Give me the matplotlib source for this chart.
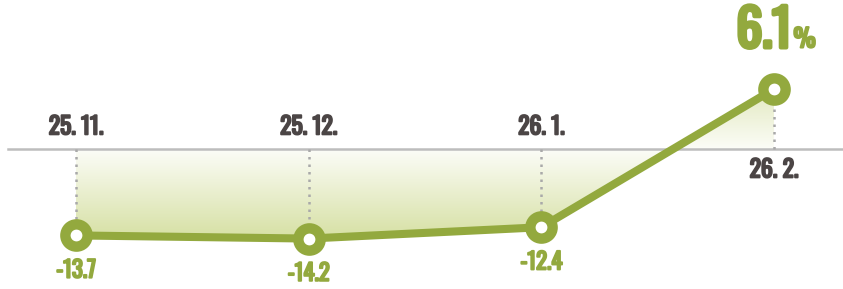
import numpy as np
import matplotlib
matplotlib.use("Agg")
import matplotlib.pyplot as plt
import matplotlib.patheffects as pe
from matplotlib import font_manager as fm

# data
months = ["25. 11.", "25. 12.", "26. 1.", "26. 2."]
values = [-13.7, -14.2, -12.4, 6.1]
value_labels = ["-13.7", "-14.2", "-12.4", "6.1"]

GREEN = "#93a93e"
DARK = "#4b4545"

# pick a condensed face if one is installed
installed = {f.name for f in fm.fontManager.ttflist}
FONT = [n for n in ["Oswald", "Roboto Condensed", "Barlow Condensed"]
        if n in installed] + ["DejaVu Sans"]


def bold(color, w):
    # thicken the glyphs a little, the original uses a heavy face
    return [pe.withStroke(linewidth=w, foreground=color)]


# the original stretches the positive side more than the negative one
POS_STRETCH = 1.56


def fwd(v):
    v = np.asarray(v, dtype=float)
    return np.where(v > 0, v * POS_STRETCH, v)


def inv(u):
    u = np.asarray(u, dtype=float)
    return np.where(u > 0, u / POS_STRETCH, u)


fig = plt.figure(figsize=(8.43, 2.89), dpi=100)
ax = fig.add_axes([0, 0, 1, 1])
ax.set_yscale("function", functions=(fwd, inv))
x = np.arange(len(values))
ax.set_xlim(-0.3266, 3.2965)
ax.set_ylim(-22.2, 15.16)
ax.axis("off")

# zero baseline
ax.axhline(0, xmin=0.01, xmax=1, color="#bdbdbd", lw=1.8, zorder=2)

# gradient fill between the line and the baseline
poly = ax.fill_between(x, values, 0, color="none", lw=0)
z = ax.transAxes.inverted().transform(ax.transData.transform((0, 0)))[1]
ny = 400
yy = np.linspace(0, 1, ny)[:, None]
dist = np.clip(np.abs(yy - z) / 0.31, 0, 1)
img = np.zeros((ny, 2, 4))
img[..., 0] = 0.84
img[..., 1] = 0.88
img[..., 2] = 0.64
img[..., 3] = (0.08 + 0.92 * dist) * np.ones((1, 2))
im = ax.imshow(img, extent=(0, 1, 0, 1), transform=ax.transAxes, origin="lower",
               aspect="auto", zorder=1, interpolation="bilinear")
im.set_clip_path(poly.get_paths()[0], ax.transData)

# dotted drop lines
for xi, v in zip(x, values):
    ax.plot([xi, xi], [0, v], color="#a9a9a9", lw=1.8, ls=(0, (1, 2)), zorder=3)

# main line with ring markers
ax.plot(x, values, color=GREEN, lw=5.8, zorder=4, solid_capstyle="round")
ax.plot(x, values, ls="none", marker="o", ms=16, mew=7.5, mfc="white", mec=GREEN, zorder=5)

# date labels
for xi, m in zip(x[:-1], months[:-1]):
    ax.annotate(m, (xi, 0), xytext=(0, 16), textcoords="offset points", ha="center",
                va="center", fontsize=17, fontweight="bold", color=DARK, family=FONT,
                path_effects=bold(DARK, 1.4))
ax.annotate(months[-1], (x[-1], 0), xytext=(0, -15), textcoords="offset points", ha="center",
            va="center", fontsize=17, fontweight="bold", color=DARK, family=FONT,
            path_effects=bold(DARK, 1.4))

# value labels
for xi, v, lab in zip(x[:-1], values[:-1], value_labels[:-1]):
    ax.annotate(lab, (xi, v), xytext=(0, -25), textcoords="offset points", ha="center",
                va="center", fontsize=16.5, fontweight="bold", color=GREEN, family=FONT,
                path_effects=bold(GREEN, 1.4))
ax.annotate(value_labels[-1], (x[-1], values[-1]), xytext=(12.5, 30), textcoords="offset points",
            ha="right", va="baseline", fontsize=37, fontweight="bold", color=GREEN, family=FONT,
            path_effects=bold(GREEN, 3))
ax.annotate("%", (x[-1], values[-1]), xytext=(14, 30), textcoords="offset points",
            ha="left", va="baseline", fontsize=18, fontweight="bold", color=GREEN, family=FONT,
            path_effects=bold(GREEN, 1.6))

fig.savefig("out.png", dpi=100, facecolor="white")
